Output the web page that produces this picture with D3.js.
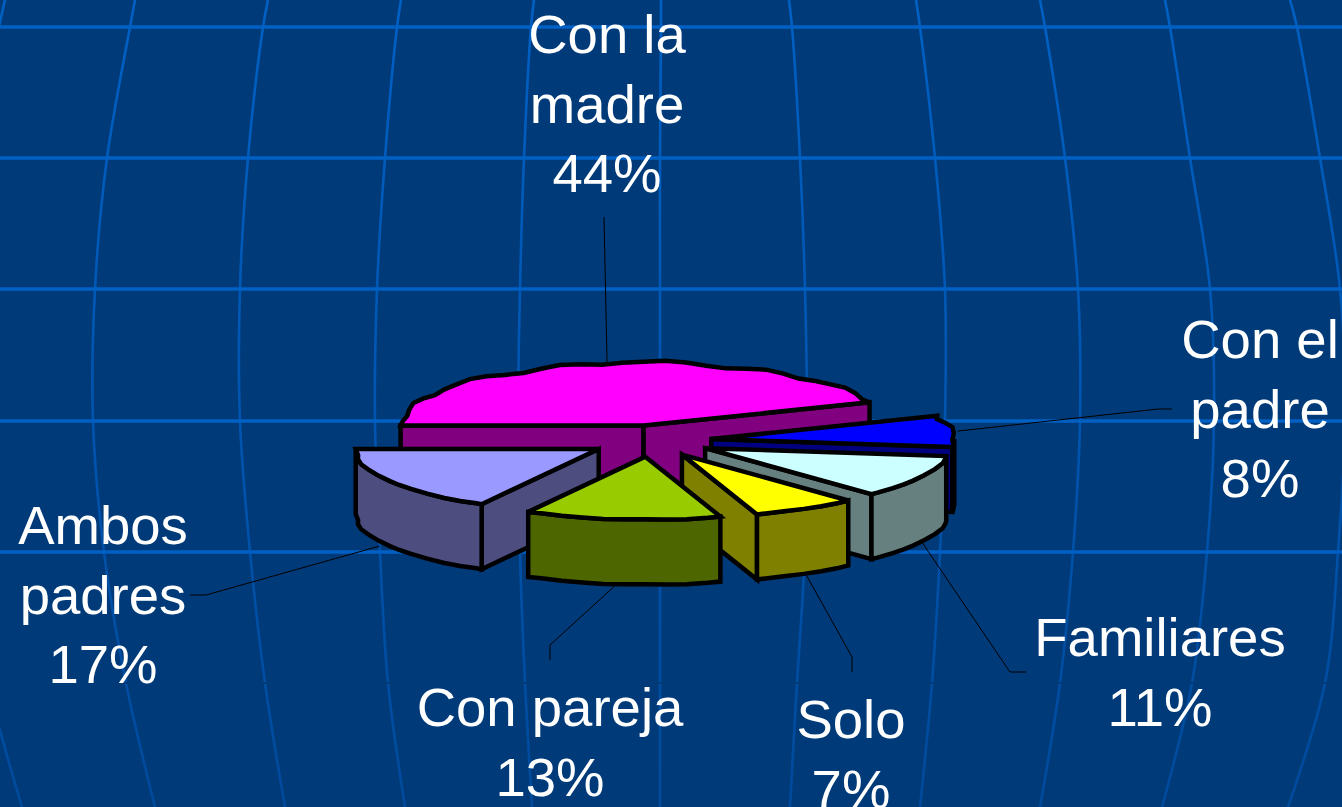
<!DOCTYPE html>
<html>
<head>
<meta charset="utf-8">
<title>Con quién vive</title>
<script src="https://cdn.jsdelivr.net/npm/d3@7"></script>
<style>
  html, body { margin: 0; padding: 0; background: #003a78; overflow: hidden; }
  svg { display: block; }
  text { font-family: "Liberation Sans", Arial, sans-serif; font-size: 54.5px; fill: #fff; text-anchor: middle; }
</style>
</head>
<body>
<div id="chart"></div>
<script>
// chart values, clockwise from the left edge of the pie
const categories = ['Con la madre', 'Con el padre', 'Familiares', 'Solo', 'Con pareja', 'Ambos padres'];
const values = [44, 8, 11, 7, 13, 17];
const topColors = ['#ff00ff', '#0000ff', '#ccffff', '#ffff00', '#99cc00', '#9999ff'];
const wallColors = ['#800080', '#000080', '#668080', '#808000', '#4d6600', '#4d4d80'];

// label text broken the way the slide breaks it
const labelLines = [['Con la', 'madre'], ['Con el', 'padre'], ['Familiares'], ['Solo'], ['Con pareja'], ['Ambos', 'padres']];
const labelX = [607, 1260, 1160, 851, 550, 103];
const labelY = [53, 358, 656, 738, 726, 544];
// leader lines: label end, then knee, then the computed rim point
const leaderEnd = [[604, 217], [1172, 409], [1026, 672], [852, 672], [550, 660], [190, 595]];
const leaderKnee = [[604, 217], [1158, 409], [1010, 672], [852, 657], [550, 645], [206, 595]];
const anchorNudge = [9, 5, 0, 0, -6, -10];
// the top slice sits a little right of where a plain explode puts it
const sliceNudge = [4, 0, 0, 0, 0, 0];

// background globe grid
const gridRows = [0, 27, 158, 289, 421, 552, 683, 807];
const gridMeridians = [
  [5, -1, -25, -40, -42, -35, -12, 22],
  [135, 130, 107, 95, 93, 104, 126, 155],
  [268, 263, 248, 240, 240, 250, 265, 285],
  [401, 397, 385, 377, 375, 380, 388, 405],
  [534, 531, 524, 520, 518, 520, 525, 532],
  [661, 661, 660, 660, 660, 660, 660, 660],
  [789, 792, 800, 805, 807, 805, 797, 790],
  [916, 920, 935, 945, 945, 940, 932, 920],
  [1040, 1045, 1065, 1078, 1080, 1073, 1060, 1040],
  [1165, 1170, 1190, 1210, 1214, 1207, 1192, 1162],
  [1290, 1297, 1320, 1340, 1345, 1338, 1325, 1288]
];

// rim of the original is a rough polygon, not a true ellipse
const rimWobble = [0.004, 0.012, 0.006, -0.006, -0.012, -0.002, 0.008, 0.002, -0.008, 0.0];

const width = 1342;
const height = 807;
const bg = '#003a78';
const radiusX = 243;
const radiusY = 63;
const centerX = 651;
const centerY = 441;
const depth = 65;
const explode = 0.25;
const rimStep = Math.PI / 36;
const wobbleLift = 110;

const x = d3.scaleLinear().domain([-1, 1]).range([centerX - radiusX, centerX + radiusX]);
const y = d3.scaleLinear().domain([-1, 1]).range([centerY - radiusY, centerY + radiusY]);

const svg = d3.select('#chart').append('svg')
  .attr('width', width)
  .attr('height', height);

svg.append('rect').attr('width', width).attr('height', height).attr('fill', bg);

// --- grid ---
const gridFade = svg.append('defs').append('linearGradient')
  .attr('id', 'gridFade')
  .attr('gradientUnits', 'userSpaceOnUse')
  .attr('x1', 0).attr('x2', 0).attr('y1', 0).attr('y2', height);
gridFade.append('stop').attr('offset', 0).attr('stop-color', '#0060c4');
gridFade.append('stop').attr('offset', 1).attr('stop-color', '#004a9c');

const meridian = d3.line()
  .x(d => d)
  .y((d, i) => gridRows[i])
  .curve(d3.curveCatmullRom);

svg.append('g').selectAll('path')
  .data(gridMeridians)
  .join('path')
  .attr('d', meridian)
  .attr('fill', 'none')
  .attr('stroke', 'url(#gridFade)')
  .attr('stroke-width', 2.6);

// rows 1-5 are drawn, row 6 only shows as a break in the meridians
svg.append('g').selectAll('line')
  .data(gridRows.slice(1, 7))
  .join('line')
  .attr('x1', 0)
  .attr('x2', width)
  .attr('y1', d => d)
  .attr('y2', d => d)
  .attr('stroke', (d, i) => i === 5 ? bg : '#0060c4')
  .attr('stroke-width', (d, i) => i === 5 ? 2 : 3.5);

// --- pie ---
const pie = d3.pie()
  .sort(null)
  .startAngle(-Math.PI / 2)
  .endAngle(Math.PI * 1.5);

const slices = pie(values).map((d, i) => {
  const mid = (d.startAngle + d.endAngle) / 2;
  return {
    i,
    a0: d.startAngle,
    a1: d.endAngle,
    mid,
    ox: Math.sin(mid) * explode,
    oy: -Math.cos(mid) * explode
  };
});

function point(s, angle, r) {
  return [x(s.ox + Math.sin(angle) * r) + sliceNudge[s.i], y(s.oy - Math.cos(angle) * r)];
}

function rimPoints(s, a0, a1) {
  const pts = [];
  const first = Math.ceil(a0 / rimStep + 0.2);
  const last = Math.floor(a1 / rimStep - 0.2);
  pts.push(point(s, a0, 1));
  for (let k = first; k <= last; k++) {
    const w = rimWobble[((k % rimWobble.length) + rimWobble.length) % rimWobble.length];
    const p = point(s, k * rimStep, 1 + w);
    pts.push([p[0], p[1] - w * wobbleLift]);
  }
  pts.push(point(s, a1, 1));
  return pts;
}

const drop = p => [p[0], p[1] + depth];
const outline = d3.line().curve(d3.curveLinearClosed);

function radialWall(s, angle) {
  const apex = point(s, angle, 0);
  const end = point(s, angle, 1);
  return outline([apex, end, drop(end), drop(apex)]);
}

// back to front
const ordered = slices.slice().sort((a, b) => d3.ascending(-Math.cos(a.mid), -Math.cos(b.mid)));

const sliceGroups = svg.append('g').selectAll('g')
  .data(ordered)
  .join('g')
  .attr('stroke', '#000')
  .attr('stroke-width', 4.5)
  .attr('stroke-linejoin', 'miter')
  .attr('stroke-miterlimit', 3);

sliceGroups.each(function (s) {
  const g = d3.select(this);
  const wall = wallColors[s.i];
  if (Math.sin(s.a0) < 0) g.append('path').attr('d', radialWall(s, s.a0)).attr('fill', wall);
  if (Math.sin(s.a1) > 0) g.append('path').attr('d', radialWall(s, s.a1)).attr('fill', wall);
  // only the front half of the rim can be seen
  const from = Math.max(s.a0, Math.PI / 2);
  const to = Math.min(s.a1, Math.PI * 1.5);
  if (to > from) {
    const rim = rimPoints(s, from, to);
    g.append('path')
      .attr('d', outline(rim.concat(rim.map(drop).reverse())))
      .attr('fill', wall);
  }
  g.append('path')
    .attr('d', outline([point(s, s.a0, 0)].concat(rimPoints(s, s.a0, s.a1))))
    .attr('fill', topColors[s.i]);
});

// --- leaders ---
const leader = d3.line();
svg.append('g').selectAll('path')
  .data(slices)
  .join('path')
  .attr('d', s => {
    const rim = point(s, s.mid, 1);
    const anchor = Math.cos(s.mid) < 0 ? drop(rim) : rim;
    return leader([leaderEnd[s.i], leaderKnee[s.i], [anchor[0] + anchorNudge[s.i], anchor[1]]]);
  })
  .attr('fill', 'none')
  .attr('stroke', '#000')
  .attr('stroke-width', 1);

// --- labels ---
const lineHeight = 69.5;
const labels = svg.append('g').selectAll('text')
  .data(categories)
  .join('text')
  .attr('x', (d, i) => labelX[i])
  .attr('y', (d, i) => labelY[i]);

labels.selectAll('tspan')
  .data((d, i) => labelLines[i].concat(values[i] + '%').map(t => ({ t, i })))
  .join('tspan')
  .attr('x', d => labelX[d.i])
  .attr('dy', (d, k) => k === 0 ? 0 : lineHeight)
  .text(d => d.t);
</script>
</body>
</html>
